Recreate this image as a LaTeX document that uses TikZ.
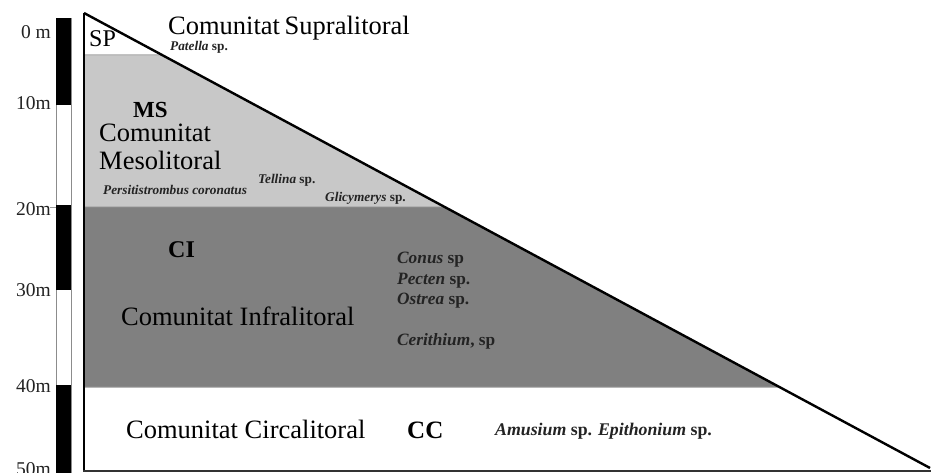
\documentclass[tikz,border=0pt]{standalone}
\usepackage{fontspec}
\setmainfont{Liberation Serif}
\usetikzlibrary{calc}
\definecolor{msgray}{RGB}{200,200,200}
\definecolor{cigray}{RGB}{128,128,128}
\definecolor{labcol}{RGB}{35,35,35}
\newcommand{\fsz}[1]{\fontsize{#1}{#1}\selectfont}
\newcommand{\spc}[1]{\textbf{\textit{#1}}}
\tikzset{
  lbl/.style={inner sep=0pt, anchor=base west, text=black},
  big/.style={lbl, font=\fsz{26.5}},
  code/.style={lbl, font=\fsz{24}\bfseries},
  species/.style={lbl, font=\fsz{13.3}\bfseries, text=labcol},
  speciesb/.style={lbl, font=\fsz{17.3}\bfseries, text=labcol},
  depth/.style={inner sep=0pt, anchor=base east, font=\fsz{19.5}, text=labcol},
  sep/.style={line width=1pt},
}
\begin{document}
\begin{tikzpicture}[x=1pt,y=-1pt]
\useasboundingbox (0,0) rectangle (931,473);
\fill[white] (0,0) rectangle (931,473);
% key points
\coordinate (top) at (84,13);
\coordinate (bot) at (930,468);
\coordinate (s1) at ($(top)!0.0923!(bot)$);
\coordinate (s2) at ($(top)!0.4264!(bot)$);
\coordinate (s3) at ($(top)!0.8220!(bot)$);
% fills
\fill[msgray] (84,55) -- (s1) -- (s2) -- (84,207) -- cycle;
\fill[cigray] (84,207) -- (s2) -- (s3) -- (84,387) -- cycle;
% separation lines
\draw[sep, draw=black!35] (84,55) -- (s1);
\draw[sep, draw=black!45] (84,207) -- (s2);
\draw[sep, draw=black!40] (84,387) -- (s3);
% frame
\draw[line width=2pt] (top) -- (84,471);
\draw[line width=2pt, draw=black!80] (83,471) -- (931,471);
\draw[line width=2.4pt] (top) -- (bot);
% depth bar
\draw[line width=0.6pt, draw=black!45] (56,18) rectangle (71,473);
\fill[black] (56,18) rectangle (71,105);
\fill[black] (56,205) rectangle (71,290);
\fill[black] (56,385) rectangle (71,473);
\draw[line width=0.8pt, draw=black!40] (50,207) -- (56,207);
% depth labels
\node[depth] (d0) at (51,38.5) {0 m};
\node[depth] (d10) at (51,110) {10m};
\node[depth] (d20) at (51,215) {20m};
\node[depth] (d30) at (51,296) {30m};
\node[depth] (d40) at (51,392) {40m};
\node[depth] (d50) at (51,475) {50m};
% Supralitoral
\node[lbl, font=\fsz{24}] (sp) at (89,47) {SP};
\node[big] (sup) at (168,34.5) {Comunitat\hspace{-2pt} Supralitoral};
\node[species] (pat) at (170,51) {\spc{Patella} sp.};
% Mesolitoral
\node[code, font=\fsz{23}\bfseries] (ms) at (133,118) {MS};
\node[big] (mes1) at (99,142) {Comunitat};
\node[big] (mes2) at (99,170) {Mesolitoral};
\node[species] (pers) at (103,194) {\spc{Persitistrombus coronatus}};
\node[species] (tel) at (258,184) {\spc{Tellina} sp.};
\node[species] (gli) at (325,201) {\spc{Glicymerys} sp.};
% Infralitoral
\node[code] (ci) at (168,257) {CI};
\node[big] (inf) at (121,325) {Comunitat Infralitoral};
\node[speciesb] (con) at (397,263) {\spc{Conus} sp};
\node[speciesb] (pec) at (397,284) {\spc{Pecten} sp.};
\node[speciesb] (ost) at (397,304) {\spc{Ostrea} sp.};
\node[speciesb] (cer) at (397,345) {\spc{Cerithium}, sp};
% Circalitoral
\node[big] (cir) at (126,438) {Comunitat Circalitoral};
\node[code, font=\fsz{25}\bfseries] (cc) at (407,438) {CC};
\node[speciesb, font=\fsz{17.8}\bfseries] (amu) at (495,435) {\spc{Amusium} sp. \spc{Epithonium} sp.};
\end{tikzpicture}
\end{document}
